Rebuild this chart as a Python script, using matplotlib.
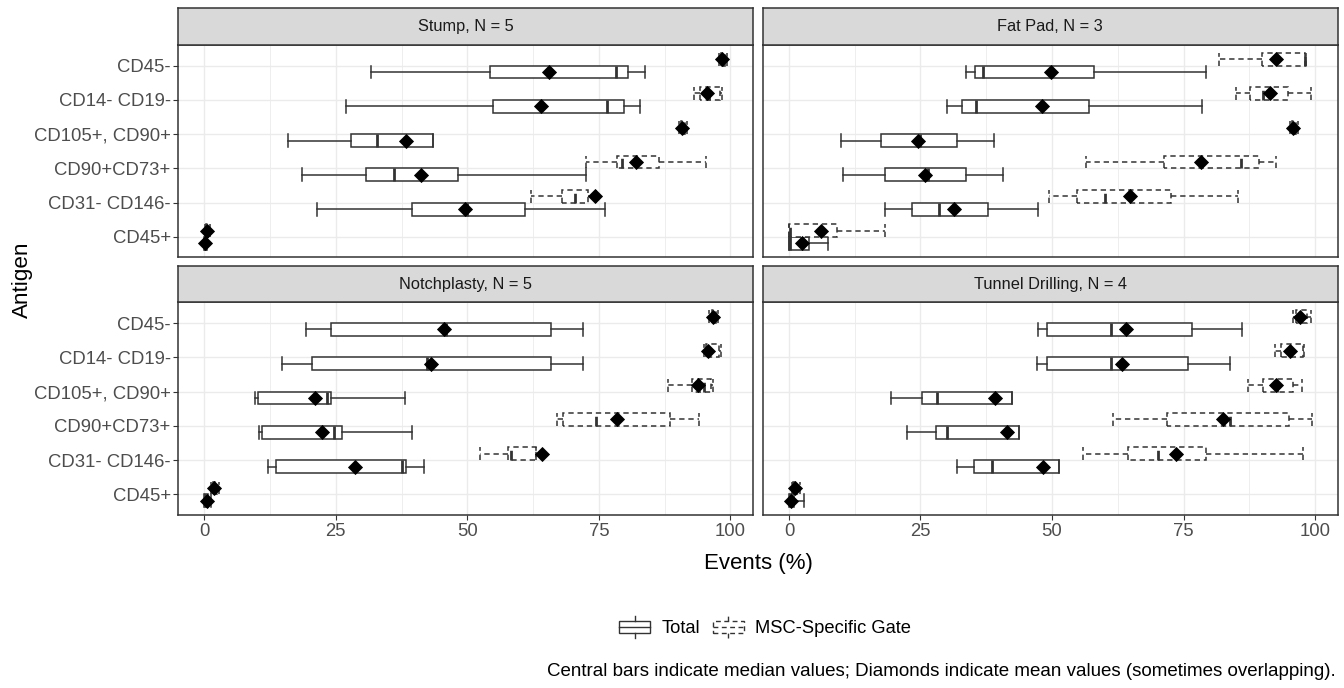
import matplotlib
matplotlib.use("Agg")
import matplotlib.pyplot as plt
from matplotlib.legend_handler import HandlerBase
from matplotlib.patches import Patch, Rectangle
from matplotlib.lines import Line2D

plt.rcParams['font.family'] = ['Liberation Sans', 'DejaVu Sans']

# ---------------------------------------------------------------------------
# data -- antigens listed top to bottom
# each row: whisker low, Q1, median, Q3, whisker high, mean
# ---------------------------------------------------------------------------
antigens = ["CD45-", "CD14- CD19-", "CD105+, CD90+", "CD90+CD73+", "CD31- CD146-", "CD45+"]
panel_titles = ["Stump, N = 5", "Fat Pad, N = 3", "Notchplasty, N = 5", "Tunnel Drilling, N = 4"]
x_ticks = [0, 25, 50, 75, 100]

stump_total = [
    [31.6, 54.3, 78.3, 80.5, 83.8, 65.5],
    [27.0, 54.8, 76.5, 79.8, 82.8, 64.1],
    [16.0, 27.8, 32.9, 43.5, 43.5, 38.3],
    [18.5, 30.7, 36.1, 48.2, 72.6, 41.2],
    [21.5, 39.4, 50.0, 60.9, 76.2, 49.6],
    [0.0, 0.1, 0.2, 0.4, 0.6, 0.1],
]
stump_msc = [
    [97.8, 98.2, 98.5, 98.9, 99.3, 98.4],
    [93.0, 94.3, 96.0, 98.0, 98.4, 95.6],
    [90.2, 90.6, 91.0, 91.4, 91.7, 90.9],
    [72.6, 78.4, 79.5, 86.4, 95.3, 82.1],
    [62.1, 68.0, 70.5, 73.0, 74.5, 74.2],
    [0.2, 0.4, 0.5, 0.8, 1.1, 0.6],
]
fatpad_total = [
    [33.7, 35.3, 36.8, 58.0, 79.2, 49.9],
    [30.0, 32.8, 35.6, 57.1, 78.6, 48.1],
    [9.8, 17.4, 25.0, 32.0, 39.0, 24.6],
    [10.2, 18.3, 26.5, 33.6, 40.7, 25.8],
    [18.3, 23.4, 28.5, 37.9, 47.3, 31.4],
    [0.0, 0.05, 0.1, 3.75, 7.4, 2.5],
]
fatpad_msc = [
    [81.7, 90.0, 98.0, 98.1, 98.2, 92.6],
    [85.0, 87.6, 90.2, 94.8, 99.3, 91.5],
    [95.3, 95.6, 96.0, 96.4, 96.7, 95.8],
    [56.4, 71.2, 85.9, 89.3, 92.6, 78.3],
    [49.4, 54.7, 60.0, 72.7, 85.3, 64.9],
    [0.0, 0.0, 0.1, 9.2, 18.3, 6.0],
]
notch_total = [
    [19.4, 24.1, 46.0, 65.9, 71.9, 45.5],
    [14.8, 20.5, 42.4, 65.9, 71.9, 43.1],
    [9.7, 10.3, 23.3, 24.1, 38.1, 21.1],
    [10.4, 10.9, 24.6, 26.1, 39.5, 22.3],
    [12.1, 13.6, 37.5, 38.3, 41.8, 28.6],
    [0.0, 0.2, 0.4, 0.8, 1.2, 0.5],
]
notch_msc = [
    [96.0, 96.5, 96.8, 97.2, 97.6, 96.8],
    [95.0, 95.4, 96.0, 97.8, 98.2, 95.8],
    [88.2, 92.8, 95.0, 96.4, 96.8, 93.8],
    [67.1, 68.1, 74.5, 88.5, 94.1, 78.4],
    [52.5, 57.8, 58.3, 63.1, 63.1, 64.2],
    [1.2, 1.6, 2.0, 2.4, 2.8, 1.9],
]
tunnel_total = [
    [47.4, 49.0, 61.2, 76.6, 86.2, 64.0],
    [47.1, 49.0, 61.2, 75.8, 83.9, 63.3],
    [19.4, 25.2, 28.2, 42.3, 42.3, 39.2],
    [22.4, 27.9, 30.1, 43.8, 43.8, 41.4],
    [32.0, 35.1, 38.5, 51.4, 51.4, 48.3],
    [0.0, 0.1, 0.3, 0.9, 2.8, 0.4],
]
tunnel_msc = [
    [95.8, 96.4, 97.0, 98.5, 99.3, 97.2],
    [92.4, 93.6, 95.5, 97.8, 97.9, 95.3],
    [87.3, 90.1, 92.8, 95.8, 97.5, 92.6],
    [61.5, 71.8, 83.9, 95.1, 99.4, 82.5],
    [55.9, 64.5, 70.2, 79.2, 97.7, 73.6],
    [0.5, 0.8, 1.1, 1.6, 2.0, 1.2],
]
panel_data = [(stump_total, stump_msc), (fatpad_total, fatpad_msc),
              (notch_total, notch_msc), (tunnel_total, tunnel_msc)]

caption = ("Central bars indicate median values; "
           "Diamonds indicate mean values (sometimes overlapping).")

# ---------------------------------------------------------------------------
# styling / layout (pixel positions of the ggplot-like facet grid)
# ---------------------------------------------------------------------------
W, H = 1344, 688
EDGE = "#333333"
GRID = "#EBEBEB"
DASH = (0, (3.5, 2.5))
BOX_W = 0.375
cols = [(178.3, 753.0), (763.0, 1337.7)]
rows = [(45.0, 257.5), (302.5, 515.0)]
STRIP_H = 37.0


def rect(x0, y0, x1, y1):
    return [x0 / W, 1 - y1 / H, (x1 - x0) / W, (y1 - y0) / H]


def to_stats(rows_):
    return [dict(whislo=r[0], q1=r[1], med=r[2], q3=r[3], whishi=r[4], mean=r[5])
            for r in rows_]


def draw_group(ax, rows_, positions, ls):
    line = dict(color=EDGE, linewidth=1.1, linestyle=ls)
    ax.bxp(to_stats(rows_), positions=positions, widths=BOX_W, capwidths=BOX_W,
           orientation="horizontal", showmeans=True, showfliers=False,
           patch_artist=True, manage_ticks=False,
           boxprops=dict(facecolor="white", edgecolor=EDGE, linewidth=1.1, linestyle=ls),
           whiskerprops=line, capprops=line,
           medianprops=dict(color=EDGE, linewidth=2.0, linestyle=ls),
           meanprops=dict(marker="D", markerfacecolor="black", markeredgecolor="black",
                          markersize=7.5, markeredgewidth=0.6))


class BoxKey(HandlerBase):
    """little boxplot glyph for the legend keys"""
    def create_artists(self, legend, orig_handle, xdescent, ydescent,
                       width, height, fontsize, trans):
        ls = orig_handle.get_linestyle()
        x0, y0 = -xdescent, -ydescent
        kw = dict(color=EDGE, linewidth=1.0, linestyle=ls, transform=trans)
        box = Rectangle((x0, y0 + 0.22 * height), width, 0.56 * height,
                        facecolor="white", edgecolor=EDGE, linewidth=1.0,
                        linestyle=ls, transform=trans)
        med = Line2D([x0, x0 + width], [y0 + 0.5 * height] * 2, **kw)
        top = Line2D([x0 + width / 2] * 2, [y0 + 0.78 * height, y0 + height], **kw)
        bot = Line2D([x0 + width / 2] * 2, [y0, y0 + 0.22 * height], **kw)
        return [box, med, top, bot]


fig = plt.figure(figsize=(W / 100, H / 100), dpi=100)
ypos = [len(antigens) - i for i in range(len(antigens))]

for k, (total, msc) in enumerate(panel_data):
    r, c = divmod(k, 2)
    x0, x1 = cols[c]
    y0, y1 = rows[r]
    ax = fig.add_axes(rect(x0, y0, x1, y1))
    ax.set_axisbelow(True)

    draw_group(ax, total, [y - BOX_W / 2 for y in ypos], "solid")
    draw_group(ax, msc, [y + BOX_W / 2 for y in ypos], DASH)

    ax.set_xlim(-4.94, 104.31)
    ax.set_ylim(0.4, len(antigens) + 0.6)
    ax.set_xticks(x_ticks)
    ax.set_xticks([12.5, 37.5, 62.5, 87.5], minor=True)
    ax.set_yticks(ypos)
    ax.set_yticklabels(antigens)
    ax.grid(which="major", color=GRID, linewidth=1.0)
    ax.grid(which="minor", axis="x", color=GRID, linewidth=0.6)
    ax.tick_params(which="minor", length=0)
    ax.tick_params(which="major", length=3.5, width=0.8, color=EDGE,
                   labelcolor="#4D4D4D", labelsize=13.3, pad=2)
    for s in ax.spines.values():
        s.set_color(EDGE)
        s.set_linewidth(1.1)
    if c == 1:
        ax.tick_params(left=False, labelleft=False)
    if r == 0:
        ax.tick_params(bottom=False, labelbottom=False)

    # facet strip
    sax = fig.add_axes(rect(x0, y0 - STRIP_H, x1, y0))
    sax.set_facecolor("#D9D9D9")
    sax.set_xticks([]); sax.set_yticks([])
    for s in sax.spines.values():
        s.set_color(EDGE)
        s.set_linewidth(1.1)
    sax.text(0.5, 0.5, panel_titles[k], ha="center", va="center",
             fontsize=11.8, color="#1A1A1A", transform=sax.transAxes)

fig.text(22 / W, 1 - 280 / H, "Antigen", rotation=90, ha="center", va="center",
         fontsize=16.2)
fig.text(758 / W, 1 - 563 / H, "Events (%)", ha="center", va="center", fontsize=16)

handles = [Patch(linestyle="solid", label="Total"),
           Patch(linestyle=DASH, label="MSC-Specific Gate")]
fig.legend(handles=handles, handler_map={Patch: BoxKey()}, loc="center",
           bbox_to_anchor=(765 / W, 1 - 627 / H), ncol=2, frameon=False,
           fontsize=13.2, handlelength=1.7, handleheight=1.4,
           handletextpad=0.6, columnspacing=0.7)

fig.text(1336 / W, 1 - 672 / H, caption, ha="right", va="center", fontsize=13.5)

fig.savefig("out.png", dpi=100, facecolor="white")
